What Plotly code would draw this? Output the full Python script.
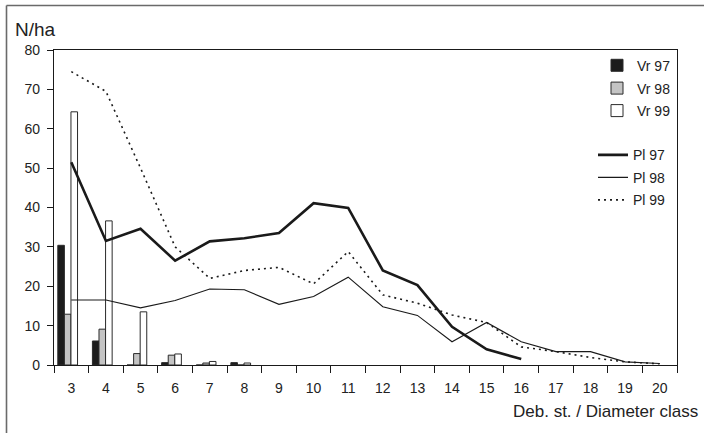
import plotly.graph_objects as go

classes = list(range(3, 21))
bar_classes = [3, 4, 5, 6, 7, 8]

vr97 = [30.4, 6.1, 0.0, 0.6, 0.0, 0.6]
vr98 = [12.9, 9.1, 2.9, 2.5, 0.5, 0.0]
vr99 = [64.3, 36.6, 13.5, 2.8, 0.9, 0.5]

pl97 = [51.5, 31.5, 34.6, 26.5, 31.4, 32.2, 33.5, 41.1, 39.9, 24.0, 20.3, 9.7, 4.0, 1.5]
pl98 = [16.5, 16.5, 14.5, 16.4, 19.3, 19.1, 15.4, 17.4, 22.3, 14.8, 12.6, 5.9, 10.8, 5.9, 3.4, 3.4, 0.8, 0.4]
pl99 = [74.5, 69.5, 50.0, 30.0, 22.0, 24.0, 24.8, 20.6, 28.8, 17.8, 15.7, 12.7, 10.8, 4.6, 3.4, 1.9, 0.8, 0.3]

yticks = [0, 10, 20, 30, 40, 50, 60, 70, 80]

FONT = "Liberation Sans, Arial, sans-serif"
TXT = "#222222"

L, R, T, B = 54, 677, 50, 365
W, H = 704, 433
pw, ph = R - L, B - T


def px(x):
    return (x - L) / pw


def py(y):
    return (B - y) / ph


fig = go.Figure()
bw = 0.19
bar_specs = [("Vr 97", vr97, "#1c1c1c", -0.39, 65.7),
             ("Vr 98", vr98, "#c4c4c4", -0.20, 88.5),
             ("Vr 99", vr99, "#ffffff", -0.01, 111.0)]
line_specs = [("Pl 97", pl97, 2.6, "solid", 155.3),
              ("Pl 98", pl98, 1.1, "solid", 177.8),
              ("Pl 99", pl99, 1.6, "2px,4px", 200.3)]

legends = {}
k = 1
for name, vals, fill, off, ly in bar_specs:
    lg = "legend" if k == 1 else f"legend{k}"
    fig.add_trace(go.Bar(x=bar_classes, y=vals, name=name, width=bw, offset=off,
                         marker=dict(color=fill, line=dict(color="#2a2a2a", width=1)),
                         legend=lg))
    legends[lg] = dict(x=px(637 - 40), y=py(ly))
    k += 1
for name, vals, wdt, dash, ly in line_specs:
    lg = f"legend{k}"
    fig.add_trace(go.Scatter(x=classes[:len(vals)], y=vals, name=name, mode="lines",
                             line=dict(color="#1a1a1a", width=wdt, dash=dash), legend=lg))
    legends[lg] = dict(x=px(633 - 40), y=py(ly))
    k += 1

layout_legends = {}
for lg, pos in legends.items():
    layout_legends[lg] = dict(x=pos["x"], y=pos["y"], xanchor="left", yanchor="middle",
                              bgcolor="rgba(0,0,0,0)", borderwidth=0,
                              font=dict(size=14, family=FONT, color=TXT),
                              itemwidth=30)

fig.update_layout(
    width=W, height=H,
    margin=dict(l=L, r=W - R, t=T, b=H - B),
    paper_bgcolor="white", plot_bgcolor="white",
    barmode="overlay",
    font=dict(family=FONT, size=14, color=TXT),
    xaxis=dict(range=[2.5, 20.5], tickmode="array", tickvals=classes,
               ticktext=[str(c) for c in classes], ticks="", showgrid=False,
               zeroline=False, showline=True, linecolor="#1a1a1a", linewidth=1.2,
               mirror=True, tickfont=dict(size=14, family=FONT, color=TXT),
               ticklabelstandoff=10,
               minor=dict(ticks="outside", ticklen=7, tick0=2.5, dtick=1,
                          tickcolor="#1a1a1a", tickwidth=1, showgrid=False)),
    yaxis=dict(range=[0, 80], tickmode="array", tickvals=yticks, ticks="outside",
               ticklen=6, tickcolor="#1a1a1a", showgrid=False, zeroline=False,
               showline=True, linecolor="#1a1a1a", linewidth=1.2, mirror=True,
               ticklabelstandoff=4,
               tickfont=dict(size=14, family=FONT, color=TXT)),
    showlegend=True,
    **layout_legends,
)

fig.add_annotation(text="N/ha", xref="paper", yref="paper", x=px(13), y=py(29),
                   xanchor="left", yanchor="middle", showarrow=False,
                   font=dict(size=19, family=FONT, color=TXT))
fig.add_annotation(text="Deb. st. / Diameter class", xref="paper", yref="paper",
                   x=px(700), y=py(411), xanchor="right", yanchor="middle",
                   showarrow=False, font=dict(size=17, family=FONT, color=TXT))

# outer frame (left and top edges visible)
fig.add_shape(type="line", xref="paper", yref="paper", x0=px(6.5), x1=px(6.5),
              y0=py(5.5), y1=py(440), line=dict(color="#6a6a6a", width=1.6))
fig.add_shape(type="line", xref="paper", yref="paper", x0=px(6.5), x1=px(710),
              y0=py(5.5), y1=py(5.5), line=dict(color="#6a6a6a", width=1.6))

fig.write_html("out.html", config={"displayModeBar": False},
               post_script="document.body.style.margin='0';")
